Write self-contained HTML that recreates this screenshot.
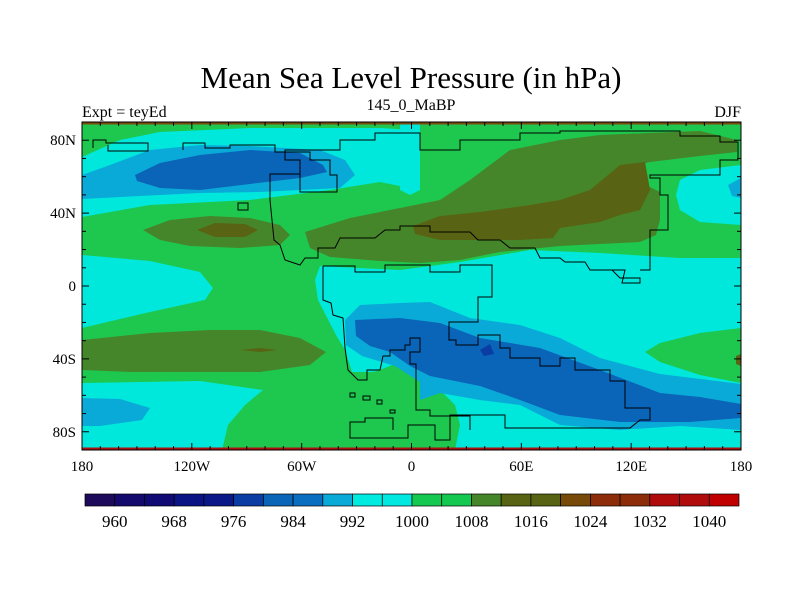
<!DOCTYPE html>
<html><head><meta charset="utf-8"><style>
html,body{margin:0;padding:0;background:#fff;}
svg{display:block;font-family:"Liberation Serif",serif;}
</style></head><body>
<svg id="chart" width="800" height="600" viewBox="0 0 800 600">
<text x="411" y="88" font-size="31" text-anchor="middle">Mean Sea Level Pressure (in hPa)</text>
<text x="82" y="117" font-size="16">Expt = teyEd</text>
<text x="411" y="110" font-size="16" text-anchor="middle">145_0_MaBP</text>
<text x="741" y="117" font-size="16" text-anchor="end">DJF</text>
<defs><clipPath id="mapclip"><rect x="82" y="122" width="659" height="328"/></clipPath></defs>
<g clip-path="url(#mapclip)">
<rect x="82" y="122" width="659" height="328" fill="#1ec84e"/>
<!-- north cyan -->
<path fill="#00e8dc" d="M82,157 L120,140 L160,132 L250,128 L330,128 L380,128 L413,130 L413,190 L400,186 L380,182 L330,190 L250,200 L150,205 L82,217Z"/>
<path fill="#00e8dc" d="M400,122 L420,122 L420,190 L410,195 L400,190Z"/>
<path fill="#00e8dc" d="M680,180 L700,170 L741,165 L741,225 L700,222 L680,210 L676,195Z"/>
<path fill="#0aaad8" d="M728,185 L741,178 L741,198 L732,196Z"/>
<path fill="#0aaad8" d="M82,175 L110,165 L150,150 L200,145 L250,146 L320,150 L345,160 L355,175 L340,188 L260,192 L200,193 L140,196 L82,199Z"/>
<path fill="#0a64b8" d="M135,175 L160,163 L200,155 L250,150 L300,153 L323,165 L327,172 L300,178 L250,184 L200,190 L160,188 L137,181Z"/>
<!-- olive north -->
<path fill="#46862a" d="M143,230 L170,220 L210,216 L250,218 L280,225 L290,235 L280,245 L240,248 L190,246 L160,240Z"/>
<path fill="#586414" d="M197,230 L215,223 L245,224 L258,230 L245,237 L215,237Z"/>
<path fill="#46862a" d="M305,232 L350,218 L400,208 L440,200 L470,180 L510,150 L560,140 L600,135 L650,133 L700,131 L737,140 L737,152 L700,156 L650,162 L625,168 L640,182 L660,192 L660,220 L656,235 L640,242 L600,244 L560,246 L500,252 L460,260 L420,263 L380,261 L330,257 L310,248Z"/>
<path fill="#586414" d="M413,226 L440,216 L480,212 L530,205 L560,200 L590,190 L620,165 L645,162 L650,190 L640,210 L620,215 L600,222 L560,228 L553,238 L520,240 L480,240 L440,240 L415,234Z"/>
<!-- equatorial left cyan -->
<path fill="#00e8dc" d="M82,255 L150,261 L200,272 L213,288 L205,300 L150,312 L82,328Z"/>
<!-- east cyan -->
<path fill="#00e8dc" d="M320,266 L400,270 L460,262 L530,250 L600,253 L680,258 L741,258 L741,450 L450,450 L450,400 L420,380 L400,365 L380,372 L352,372 L345,350 L336,335 L318,300 L315,280Z"/>
<!-- south green tongue -->
<path fill="#1ec84e" d="M345,372 L365,375 L385,368 L400,362 L410,380 L440,390 L455,405 L460,425 L455,450 L340,450 L340,420 L342,390Z"/>
<path fill="#1ec84e" d="M225,450 L230,425 L250,410 L300,412 L340,420 L340,450Z"/>
<path fill="#1ec84e" d="M741,328 L700,333 L660,343 L645,352 L660,362 L700,375 L741,383Z"/>
<path fill="#586414" d="M736,356 L741,354 L741,366 L736,364Z"/>
<!-- SW cyan -->
<path fill="#00e8dc" d="M82,383 L200,381 L263,390 L245,405 L228,425 L222,450 L82,450Z"/>
<path fill="#0aaad8" d="M82,398 L120,399 L150,408 L142,420 L100,426 L82,426Z"/>
<!-- SW olive -->
<path fill="#46862a" d="M82,340 L150,333 L210,330 L260,330 L300,338 L326,352 L310,365 L260,372 L200,372 L130,372 L82,370Z"/>
<path fill="#586414" d="M240,350 L260,348 L277,350 L260,352Z"/>
<!-- south blue -->
<path fill="#0aaad8" d="M345,320 L360,305 L400,303 L430,302 L470,318 L520,325 L560,338 L600,358 L660,374 L741,384 L741,430 L680,426 L620,430 L560,425 L520,405 L480,400 L440,393 L420,400 L420,382 L395,366 L362,356 L346,345Z"/>
<path fill="#0a64b8" d="M355,320 L400,318 L440,323 L480,338 L540,348 L600,370 L660,393 L700,397 L741,404 L741,418 L690,422 L620,422 L560,415 L520,400 L480,386 L450,380 L430,376 L410,366 L390,352 L370,346 L356,336Z"/>
<path fill="#0a3ca4" d="M480,350 L490,344 L494,354 L484,356Z"/>
<!-- coastlines -->
<g fill="none" stroke="#000" stroke-width="1">
<path d="M93,148 L93,140 L106,140 L106,143 L148,143 L148,151 L108,151 L108,145"/>
<path d="M183,150 L183,143 L205,143 L205,148 L230,148 L230,145 L275,145 L275,152 L310,152 L310,160 L330,160 L330,175 L337,175 L337,192 L300,192 L300,174 L270,174 L270,200 L274,240 L280,245 L285,260 L300,265 L305,258 L318,258 L318,248 L335,248 L340,238 L375,238 L385,230 L400,230 L400,226 L430,226 L430,232 L470,232 L478,240 L500,240 L510,248 L535,248 L540,258 L560,258 L565,262 L585,262 L590,270 L612,270 L620,278 L640,278 L640,283 L622,283 L625,270 L600,270"/>
<path d="M300,174 L300,160 L285,160 L285,150 L340,150 L340,140 L375,140 L375,133 L420,133 L420,150 L460,150 L460,140 L520,140 L520,133 L560,133 L560,131 L680,131 L680,136 L720,136 L720,142 L738,142 L738,160 L720,160 L720,175 L650,175 L650,178 L660,178 L660,195 L668,195 L668,230 L650,230 L650,270 L640,270"/>
<path d="M238,203 L248,203 L248,210 L238,210Z"/>
<path d="M323,266 L323,300 L331,303 L333,315 L343,318 L345,348 L348,370 L358,380 L367,380 L367,370 L380,370 L383,356 L390,356 L390,350 L405,350 L405,345 L410,345 L410,338 L420,338 L420,352 L410,352 L410,364 L416,364 L416,410 L430,410 L430,416 L470,416 L470,430"/>
<path d="M323,266 L355,266 L355,272 L385,272 L385,265 L430,265 L430,272 L460,272 L460,265 L492,265 L492,297 L478,297 L478,322 L449,322 L449,340 L456,340 L456,345 L478,345 L478,335 L500,335 L500,348 L510,348 L510,358 L540,358 L540,366 L560,366 L560,358 L575,358 L575,370 L610,370 L610,381 L625,381 L625,408 L650,408 L650,420 L640,420 L630,428 L505,428 L505,415 L450,415 L450,440 L435,440 L435,425 L408,425 L408,438 L350,438 L350,422 L365,422 L365,418 L393,418 L393,430"/>
<path d="M350,393 L355,393 L355,397 L350,397Z M363,396 L370,396 L370,400 L363,400Z M377,400 L382,400 L382,404 L377,404Z M390,410 L395,410 L395,413 L390,413Z"/>
</g>
<rect x="82" y="122" width="659" height="2.5" fill="#7a4a10"/>
<rect x="82" y="447.5" width="659" height="2.5" fill="#b01010"/>
</g>
<rect x="82" y="122" width="659" height="328" fill="none" stroke="#000" stroke-width="1"/>
<g id="ticks" stroke="#000" stroke-width="1"></g>
<g id="xlabels" font-size="15" text-anchor="middle"></g>
<g id="ylabels" font-size="15" text-anchor="end"></g>
<g id="colorbar"></g>
</svg>
<script>
const levels = [960, 968, 976, 984, 992, 1000, 1008, 1016, 1024, 1032, 1040];
const boxColors = ["#1e0a5a","#140a6e","#100a74","#0a1484","#0a1888","#0a3ca4","#0a64b8","#0a6ec0","#0aaad8","#00ebe0","#00e8e0","#14c850","#14c850","#46862a","#586414","#586414","#784a0a","#8c2c08","#8c2c08","#b00c0c","#b00c0c","#c00000"];
const lonTicks = ["180","120W","60W","0","60E","120E","180"];
const lonVals = [-180,-120,-60,0,60,120,180];
const latTicks = ["80N","40N","0","40S","80S"];
const latVals = [80,40,0,-40,-80];
const NS="http://www.w3.org/2000/svg";
const xLon = lon => 82 + (lon+180)*659/360;
const yLat = lat => 286 - lat*328/180;
function mk(tag, attrs, parent){const e=document.createElementNS(NS,tag);for(const k in attrs)e.setAttribute(k,attrs[k]);parent.appendChild(e);return e;}
const tk=document.getElementById('ticks');
for(let lon=-170;lon<180;lon+=10){
  const x=xLon(lon), major=lon%60===0, L=major?7:4;
  const t1=mk('line',{x1:x,y1:122,x2:x,y2:122+L},tk);
  
  
  const t2=mk('line',{x1:x,y1:450,x2:x,y2:450-L},tk);
  
  
}
for(let lat=-80;lat<=80;lat+=10){
  const y=yLat(lat), major=lat%40===0, L=major?7:4;
  const t1=mk('line',{x1:82,y1:y,x2:82+L,y2:y},tk);
  
  
  const t2=mk('line',{x1:741,y1:y,x2:741-L,y2:y},tk);
  
  
}
const xl=document.getElementById('xlabels');
lonTicks.forEach((s,i)=>{const t=mk('text',{x:xLon(lonVals[i]),y:471},xl);t.textContent=s;
  
  });
const yl=document.getElementById('ylabels');
latTicks.forEach((s,i)=>{const t=mk('text',{x:76,y:yLat(latVals[i])+5},yl);t.textContent=s;
  
  });
const cb=document.getElementById('colorbar');
const cbX=85, cbW=654, cbY=494, cbH=12, bw=cbW/boxColors.length;
boxColors.forEach((c,i)=>{const r=mk('rect',{x:cbX+i*bw,y:cbY,width:bw,height:cbH,fill:c,stroke:"#000","stroke-width":0.7},cb);
  
  });
levels.forEach((v,i)=>{const t=mk('text',{x:cbX+(1+2*i)*bw,y:527,"font-size":17,"text-anchor":"middle"},cb);t.textContent=v;
  
  });
</script>
</body></html>
